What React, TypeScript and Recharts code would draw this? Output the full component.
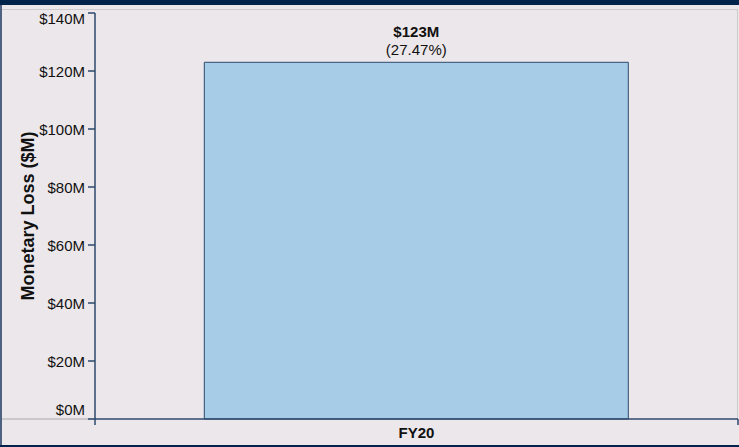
import React from 'react';
import { BarChart, Bar, XAxis, YAxis, LabelList } from 'recharts';

const categories = ['FY20'];
const losses = [123];
const shares = ['27.47%'];
const yTicks = [0, 20, 40, 60, 80, 100, 120, 140];

const data = categories.map((c, i) => ({ year: c, loss: losses[i], share: shares[i] }));

const NAVY = '#00234B';
const AXIS = '#2F4A6C';
const BG = '#ECE7EA';
const FONT = 'Arial, "Liberation Sans", sans-serif';

const XTick = (props: any) => {
  const { x, y, payload } = props;
  const half = payload && payload.offset ? payload.offset : 0;
  return (
    <g>
      <line x1={x - half} x2={x - half} y1={y} y2={y + 6} stroke={AXIS} strokeWidth={1.5} />
      <line x1={x + half} x2={x + half} y1={y} y2={y + 6} stroke={AXIS} strokeWidth={1.5} />
      <text x={x} y={y + 19} textAnchor="middle" fontSize={15} fontWeight="bold" fill="#111" fontFamily={FONT}>
        {payload.value}
      </text>
    </g>
  );
};

const YTick = (props: any) => {
  const { y, payload } = props;
  const v = payload.value;
  // edge labels stay inside the plot, like the original
  let dy = 5.5;
  if (v === yTicks[yTicks.length - 1]) dy = 11;
  if (v === yTicks[0]) dy = -4;
  return (
    <g>
      <line x1={88} x2={95} y1={y} y2={y} stroke={AXIS} strokeWidth={1.5} />
      <text x={85} y={y + dy} textAnchor="end" fontSize={15} fill="#111" fontFamily={FONT}>
        {`$${v}M`}
      </text>
    </g>
  );
};

const TopLabel = (props: any) => {
  const { x, y, width, index } = props;
  const cx = x + width / 2;
  return (
    <g fontFamily={FONT} fontSize={15} fill="#111" textAnchor="middle">
      <text x={cx} y={y - 25} fontWeight="bold">{`$${losses[index]}M`}</text>
      <text x={cx} y={y - 7}>{`(${shares[index]})`}</text>
    </g>
  );
};

const YLabel = (props: any) => {
  const vb = props.viewBox || { y: 0, height: 0 };
  const cx = 33.5;
  const cy = vb.y + vb.height / 2;
  return (
    <text x={cx} y={cy} transform={`rotate(-90 ${cx} ${cy})`} textAnchor="middle" fontSize={18} fontWeight="bold" fill="#111" fontFamily={FONT}>
      Monetary Loss ($M)
    </text>
  );
};

export default function App() {
  return (
    <div style={{ position: 'absolute', left: 0, top: 0, width: 739, height: 447, background: BG, overflow: 'hidden' }}>
      <div style={{ position: 'absolute', left: 0, top: 0, width: 739, height: 5, background: NAVY }} />
      <div style={{ position: 'absolute', left: 0, top: 5, width: 2, height: 442, background: '#4E6180' }} />
      <div style={{ position: 'absolute', left: 2, top: 9, width: 736, height: 1, background: '#CDCDCD' }} />
      <div style={{ position: 'absolute', left: 737, top: 9, width: 1, height: 410, background: '#CDCDCD' }} />
      <div style={{ position: 'absolute', left: 2, top: 418, width: 93, height: 2, background: '#C9C9C9' }} />
      <div style={{ position: 'absolute', left: 0, top: 445, width: 739, height: 2, background: NAVY }} />
      <div style={{ position: 'absolute', left: 0, top: 0 }}>
        <BarChart
          width={739}
          height={447}
          data={data}
          margin={{ top: 13, right: 1, left: 0, bottom: 0 }}
          barCategoryGap="17%"
        >
          <XAxis
            dataKey="year"
            height={28}
            axisLine={{ stroke: AXIS, strokeWidth: 1.5 }}
            tickLine={false}
            tickSize={0}
            tickMargin={0}
            tick={<XTick />}
            interval={0}
          />
          <YAxis
            width={95}
            domain={[0, 140]}
            ticks={yTicks}
            interval={0}
            axisLine={{ stroke: AXIS, strokeWidth: 1.5 }}
            tickLine={false}
            tick={<YTick />}
            label={<YLabel />}
          />
          <Bar dataKey="loss" fill="#A6CCE8" stroke={AXIS} strokeWidth={1} isAnimationActive={false}>
            <LabelList dataKey="loss" content={<TopLabel />} />
          </Bar>
        </BarChart>
      </div>
    </div>
  );
}
